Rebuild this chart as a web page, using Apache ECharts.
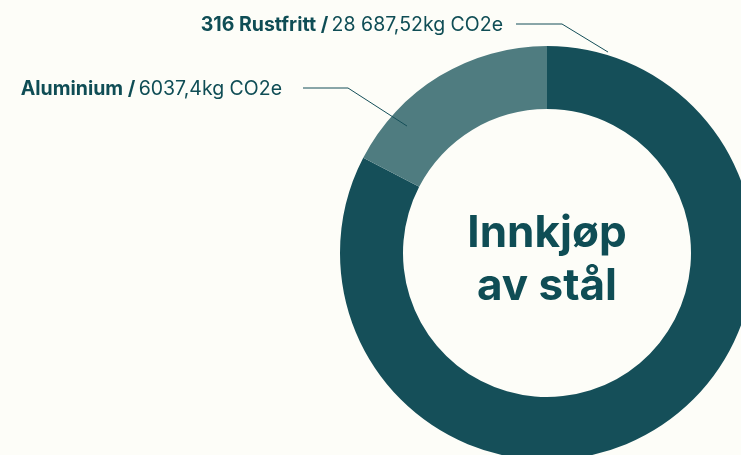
<!DOCTYPE html>
<html>
<head>
<meta charset="utf-8">
<script src="https://cdn.jsdelivr.net/npm/echarts@6/dist/echarts.min.js"></script>
<style>
html,body{margin:0;padding:0;background:#fdfdf8;}
#chart{width:741px;height:455px;}
</style>
</head>
<body>
<div id="chart"></div>
<script>
// Data
const categories = ['316 Rustfritt', 'Aluminium'];
const values = [28687.52, 6037.4];
const unit = 'kg CO2e';
const centerTitle = 'Innkjøp\nav stål';

// Style / layout config
const colors = ['#154f59', '#4f7c80'];
const textColor = '#0f4d55';
const CX = 547, CY = 253, R_IN = 144, R_OUT = 207;
// label placement: text anchor (right edge), line start gap, elbow length, target angle (deg from top, cw +) and radius
const labelCfg = [
  { x: 503, y: 25, gap: 13, elbow: 46, angle: 16.9, r: 210 },
  { x: 282, y: 89, gap: 21, elbow: 45, angle: -47.8, r: 189 }
];

function fmt(v) {
  const parts = String(v).split('.');
  let ip = parts[0];
  if (ip.length > 4) ip = ip.replace(/\B(?=(\d{3})+(?!\d))/g, ' ');
  return parts[1] ? ip + ',' + parts[1] : ip;
}

const ringData = categories.map((c, i) => ({ name: c, value: values[i], itemStyle: { color: colors[i] } }));
const labelData = categories.map((c, i) => ({ name: c, value: values[i] }));

const chart = echarts.init(document.getElementById('chart'));
chart.setOption({
  backgroundColor: '#fdfdf8',
  animation: false,
  title: {
    text: centerTitle,
    left: CX,
    top: 207,
    padding: 0,
    textAlign: 'center',
    textStyle: { fontFamily: 'Inter', fontWeight: 'bold', fontSize: 44, lineHeight: 53, color: textColor }
  },
  series: [{
    type: 'pie',
    z: 1,
    center: [CX, CY],
    radius: [R_IN, R_OUT],
    startAngle: 90,
    clockwise: true,
    silent: true,
    data: ringData,
    label: { show: false },
    labelLine: { show: false }
  }, {
    type: 'pie',
    z: 5,
    center: [CX, CY],
    radius: [R_IN, R_OUT],
    startAngle: 90,
    clockwise: true,
    silent: true,
    data: labelData,
    itemStyle: { color: 'rgba(0,0,0,0)', borderWidth: 0 },
    label: {
      show: true,
      overflow: 'none',
      alignTo: 'none',
      formatter: p => '{b|' + p.name + ' /} {v|' + fmt(p.value) + unit + '}',
      rich: {
        b: { fontFamily: 'Inter', fontWeight: 'bold', fontSize: 19.5, color: textColor },
        v: { fontFamily: 'Inter', fontWeight: 'normal', fontSize: 19.5, color: textColor }
      }
    },
    labelLine: {
      show: true,
      showAbove: true,
      smooth: false,
      lineStyle: { color: '#154f59', width: 1 }
    },
    labelLayout: function (p) {
      const c = labelCfg[p.dataIndex];
      const x0 = c.x + c.gap;
      const x1 = x0 + c.elbow;
      const a = c.angle * Math.PI / 180;
      const ex = CX + c.r * Math.sin(a);
      const ey = CY - c.r * Math.cos(a);
      return {
        x: c.x, y: c.y, align: 'right', verticalAlign: 'middle',
        labelLinePoints: [[x0, c.y - 1], [x1, c.y - 1], [ex, ey]]
      };
    }
  }]
});
</script>
</body>
</html>
